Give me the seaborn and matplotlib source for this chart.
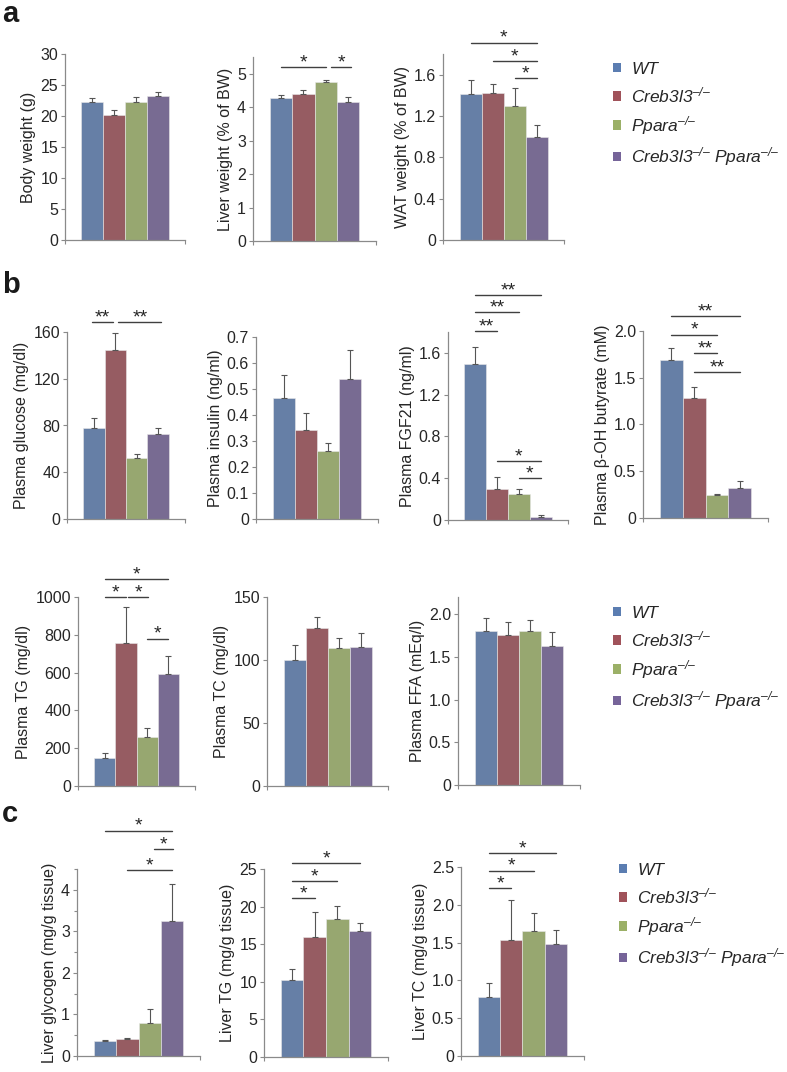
import numpy as np
import pandas as pd
import matplotlib
matplotlib.use('Agg')
import matplotlib.pyplot as plt
from matplotlib.patches import Patch
import seaborn as sns

# genotypes and colours
genotypes = ['WT', 'Creb3l3', 'Ppara', 'DKO']
legend_labels = ['WT', 'Creb3l3$^{\u2013/\u2013}$', 'Ppara$^{\u2013/\u2013}$',
                 'Creb3l3$^{\u2013/\u2013}$ Ppara$^{\u2013/\u2013}$']
colors = ['#5b7db1', '#a0525a', '#9bb067', '#766499']

# panel a
body_weight = [22.3, 20.1, 22.3, 23.2]
body_weight_sem = [0.65, 0.8, 0.7, 0.6]
liver_weight = [4.27, 4.40, 4.75, 4.16]
liver_weight_sem = [0.10, 0.12, 0.05, 0.13]
wat_weight = [1.41, 1.42, 1.30, 1.00]
wat_weight_sem = [0.14, 0.09, 0.17, 0.11]

# panel b
glucose = [78.1, 144.4, 52.1, 72.9]
glucose_sem = [8.5, 14.8, 3.7, 4.9]
insulin = [0.467, 0.344, 0.263, 0.537]
insulin_sem = [0.085, 0.065, 0.028, 0.113]
fgf21 = [1.49, 0.30, 0.246, 0.032]
fgf21_sem = [0.17, 0.11, 0.048, 0.013]
bohb = [1.685, 1.28, 0.242, 0.324]
bohb_sem = [0.135, 0.12, 0.018, 0.076]
plasma_tg = [150, 757, 257, 592]
plasma_tg_sem = [22, 190, 51, 96]
plasma_tc = [100.3, 125.2, 109.6, 110.1]
plasma_tc_sem = [11.9, 8.9, 8.2, 11.4]
plasma_ffa = [1.80, 1.76, 1.805, 1.63]
plasma_ffa_sem = [0.15, 0.15, 0.125, 0.16]

# panel c
glycogen = [0.36, 0.41, 0.79, 3.25]
glycogen_sem = [0.03, 0.03, 0.33, 0.88]
liver_tg = [10.27, 15.93, 18.32, 16.77]
liver_tg_sem = [1.41, 3.41, 1.81, 1.11]
liver_tc = [0.774, 1.535, 1.655, 1.482]
liver_tc_sem = [0.186, 0.531, 0.23, 0.182]

sns.set_style('ticks')
plt.rcParams['font.family'] = ['Liberation Sans', 'DejaVu Sans']
plt.rcParams['mathtext.fontset'] = 'custom'
plt.rcParams['mathtext.rm'] = 'Liberation Sans:italic'
plt.rcParams['mathtext.it'] = 'Liberation Sans:italic'

TEXT = '#262626'
AXIS = '#8a8a8a'
W, H = 787, 1072

fig = plt.figure(figsize=(W / 100, H / 100), dpi=100)


def px_axes(left, right, top, bottom):
    return fig.add_axes([left / W, 1 - bottom / H, (right - left) / W, (bottom - top) / H])


def draw_panel(box, values, sems, ylabel, ymax, yticks, yticklabels, sig=(), minor=None):
    ax = px_axes(*box)
    df = pd.DataFrame({'group': genotypes, 'value': values})
    sns.barplot(data=df, x='group', y='value', hue='group', palette=colors,
                order=genotypes, hue_order=genotypes, width=1.0, errorbar=None,
                legend=False, edgecolor='#e8e8e8', linewidth=0.4, ax=ax)
    ax.errorbar(np.arange(4), values, yerr=[np.zeros(4), sems], fmt='none',
                ecolor='#555555', elinewidth=0.8, capsize=2, capthick=0.8)
    xlim = (-1.25, 4.25)
    ax.set_xlim(*xlim)
    ax.set_ylim(0, ymax)
    ax.set_xticks(list(xlim))
    ax.set_xticklabels(['', ''])
    ax.set_xlabel('')
    ax.set_yticks(yticks)
    ax.set_yticklabels(yticklabels, fontsize=11.5, color=TEXT)
    if minor is not None:
        ax.set_yticks(minor, minor=True)
        ax.tick_params(axis='y', which='minor', length=2.5, color=AXIS, width=0.8)
    ax.set_ylabel(ylabel, fontsize=11.5, color=TEXT, labelpad=3)
    sns.despine(ax=ax)
    for s in ['left', 'bottom']:
        ax.spines[s].set_color(AXIS)
        ax.spines[s].set_linewidth(0.9)
    ax.tick_params(axis='both', length=3, width=0.8, color=AXIS, pad=2)
    for i, j, y, label in sig:
        ax.plot([i, j], [y, y], color='#404040', lw=1.0, clip_on=False)
        ax.annotate(label, xy=((i + j) / 2, y), xytext=(0, -3), textcoords='offset points',
                    ha='center', va='bottom', fontsize=14, color=TEXT, annotation_clip=False)
    return ax


# row a
draw_panel((65, 185, 54, 240), body_weight, body_weight_sem, 'Body weight (g)', 30,
           [0, 5, 10, 15, 20, 25, 30], ['0', '5', '10', '15', '20', '25', '30'])
draw_panel((253, 376, 57, 241), liver_weight, liver_weight_sem, 'Liver weight (% of BW)', 5.5,
           [0, 1, 2, 3, 4, 5], ['0', '1', '2', '3', '4', '5'],
           sig=[(0, 2, 5.2, '*'), (2.25, 3.15, 5.2, '*')])
draw_panel((443, 564, 54, 240), wat_weight, wat_weight_sem, 'WAT weight (% of BW)', 1.8,
           [0, 0.4, 0.8, 1.2, 1.6], ['0', '0.4', '0.8', '1.2', '1.6'],
           sig=[(0, 3, 1.91, '*'), (1, 3, 1.73, '*'), (2, 3, 1.565, '*')])

# row b, upper
draw_panel((67, 185, 332, 519), glucose, glucose_sem, 'Plasma glucose (mg/dl)', 160,
           [0, 40, 80, 120, 160], ['0', '40', '80', '120', '160'],
           sig=[(-0.1, 0.9, 168.5, '**'), (1.15, 3.15, 168.5, '**')])
draw_panel((256, 378, 337, 519), insulin, insulin_sem, 'Plasma insulin (ng/ml)', 0.7,
           [0, 0.1, 0.2, 0.3, 0.4, 0.5, 0.6, 0.7],
           ['0', '0.1', '0.2', '0.3', '0.4', '0.5', '0.6', '0.7'])
draw_panel((448, 568, 332, 520), fgf21, fgf21_sem, 'Plasma FGF21 (ng/ml)', 1.8,
           [0, 0.4, 0.8, 1.2, 1.6], ['0', '0.4', '0.8', '1.2', '1.6'],
           sig=[(0, 3, 2.15, '**'), (0, 2, 1.99, '**'), (0, 1, 1.81, '**'),
                (1, 3, 0.566, '*'), (2, 3, 0.40, '*')])
draw_panel((643, 768, 331, 518), bohb, bohb_sem, 'Plasma \u03b2-OH butyrate (mM)', 2.0,
           [0, 0.5, 1.0, 1.5, 2.0], ['0', '0.5', '1.0', '1.5', '2.0'],
           sig=[(0, 3, 2.16, '**'), (0, 2, 1.96, '*'), (1, 2, 1.76, '**'), (1, 3, 1.56, '**')])

# row b, lower
draw_panel((78, 195, 597, 786), plasma_tg, plasma_tg_sem, 'Plasma TG (mg/dl)', 1000,
           [0, 200, 400, 600, 800, 1000], ['0', '200', '400', '600', '800', '1000'],
           sig=[(0, 3, 1093, '*'), (0, 1, 1000, '*'), (1.1, 2.05, 1000, '*'), (2, 3, 780, '*')])
draw_panel((267, 388, 597, 786), plasma_tc, plasma_tc_sem, 'Plasma TC (mg/dl)', 150,
           [0, 50, 100, 150], ['0', '50', '100', '150'])
draw_panel((458, 580, 597, 785), plasma_ffa, plasma_ffa_sem, 'Plasma FFA (mEq/l)', 2.2,
           [0, 0.5, 1.0, 1.5, 2.0], ['0', '0.5', '1.0', '1.5', '2.0'])

# row c
draw_panel((77, 200, 869, 1056), glycogen, glycogen_sem, 'Liver glycogen (mg/g tissue)', 4.5,
           [0, 1, 2, 3, 4], ['0', '1', '2', '3', '4'],
           sig=[(0, 3, 5.42, '*'), (2.2, 3.05, 4.98, '*'), (1, 3, 4.48, '*')],
           minor=[0.5, 1.5, 2.5, 3.5, 4.5])
draw_panel((264, 388, 869, 1057), liver_tg, liver_tg_sem, 'Liver TG (mg/g tissue)', 25,
           [0, 5, 10, 15, 20, 25], ['0', '5', '10', '15', '20', '25'],
           sig=[(0, 3, 25.76, '*'), (0, 2, 23.4, '*'), (0, 1, 21.1, '*')])
draw_panel((461, 584, 867, 1056), liver_tc, liver_tc_sem, 'Liver TC (mg/g tissue)', 2.5,
           [0, 0.5, 1.0, 1.5, 2.0, 2.5], ['0', '0.5', '1.0', '1.5', '2.0', '2.5'],
           sig=[(0, 3, 2.68, '*'), (0, 2, 2.45, '*'), (0, 1, 2.22, '*')])

# legends
handles = [Patch(facecolor=c, edgecolor='none') for c in colors]
for yc, xl in [(115, 606), (659, 606), (916, 612)]:
    fig.legend(handles, legend_labels, loc='center left', bbox_to_anchor=(xl / W, 1 - yc / H),
               frameon=False, prop={'style': 'italic', 'size': 12.5},
               handlelength=0.45, handleheight=0.45, handletextpad=0.6, labelspacing=0.5,
               labelcolor=TEXT, borderaxespad=0)

# panel letters
for letter, yb in [('a', 22), ('b', 293), ('c', 822)]:
    fig.text(2 / W, 1 - yb / H, letter, fontsize=21, fontweight='bold', color='#1a1a1a',
             va='baseline', ha='left')

fig.savefig('out.png', dpi=100)
